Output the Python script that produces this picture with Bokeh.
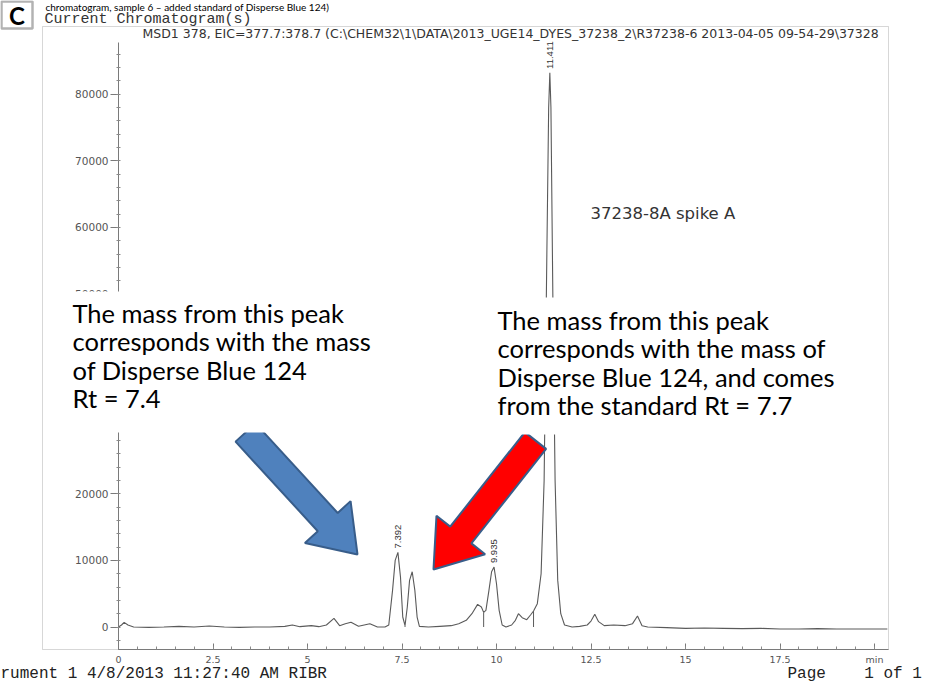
import math
from bokeh.plotting import figure
from bokeh.models import Range1d, FixedTicker, Label, BoxAnnotation
from bokeh.core.properties import value
from bokeh.embed import file_html
from bokeh.resources import INLINE

# ---------------- data ----------------
time_min = [0.0, 0.08, 0.15, 0.25, 0.4, 0.8, 1.2, 1.6, 2.0, 2.4,
            2.8, 3.2, 3.6, 4.0, 4.4, 4.6, 4.8, 5.1, 5.3, 5.5,
            5.7, 5.85, 6.0, 6.15, 6.35, 6.5, 6.65, 6.85, 7.05, 7.15,
            7.25, 7.32, 7.392, 7.46, 7.52, 7.58, 7.64, 7.70, 7.77, 7.84,
            7.90, 7.96, 8.2, 8.5, 8.8, 9.0, 9.2, 9.35, 9.5, 9.6,
            9.66, 9.72, 9.8, 9.87, 9.935, 10.0, 10.07, 10.15, 10.25, 10.4,
            10.5, 10.58, 10.68, 10.8, 10.9, 10.98, 11.08, 11.18, 11.26, 11.33,
            11.38, 11.411, 11.44, 11.49, 11.55, 11.62, 11.7, 11.8, 12.0, 12.2,
            12.4, 12.5, 12.6, 12.7, 12.85, 13.1, 13.4, 13.6, 13.73, 13.85,
            14.0, 14.5, 15.0, 15.5, 16.0, 16.5, 17.0, 17.5, 18.0, 18.5,
            19.0, 19.5, 20.0, 20.34]
signal = [0, 300, 700, 300, 0, -50, 0, 100, 0, 150,
          0, -50, 0, 0, 100, 300, 50, 200, 50, 300,
          1300, 200, 500, 700, 100, 300, 500, 0, 0, 300,
          5500, 10000, 11200, 7500, 1500, 200, 3000, 7000, 8300, 5500,
          1500, 100, 0, 100, 200, 500, 1000, 2000, 3400, 3000,
          2200, 2500, 5500, 8300, 9000, 6500, 2500, 300, 0, 300,
          1000, 2000, 1400, 1100, 1800, 2400, 3500, 8000, 22000, 55000,
          78000, 83200, 78000, 50000, 22000, 7000, 2000, 300, 0, 100,
          300, 900, 1900, 800, 200, 300, 200, 500, 1650, 200,
          0, -100, -200, -150, -200, -250, -200, -300, -300, -250,
          -300, -300, -300, -300]

# integration drop lines (ChemStation peak separators)
drop_rt = [7.58, 9.66, 10.98]
drop_height = [200, 2200, 2400]

peak_rt = [7.392, 9.935, 11.411]
peak_height = [11200, 9000, 83200]
peak_labels = ["7.392", "9.935", "11.411"]

y_ticks = [0, 10000, 20000, 30000, 40000, 50000, 60000, 70000, 80000]
x_ticks = [0, 2.5, 5, 7.5, 10, 12.5, 15, 17.5, 20]
x_tick_labels = ["0", "2.5", "5", "7.5", "10", "12.5", "15", "17.5", "min"]

# ---------------- layout helpers (picture pixel -> data) ----------------
X0_PX, PX_PER_MIN = 118.0, 37.8
Y0_PX, PX_PER_CNT = 626.5, 66.6 / 10000.0


def xd(px):
    return (px - X0_PX) / PX_PER_MIN


def yd(py):
    return (Y0_PX - py) / PX_PER_CNT


W, H = 925, 682
AX_R, AX_T, AX_B = 888, 42, 649   # chromatogram axes box, picture px

p = figure(width=W, height=H, output_backend="svg", toolbar_location=None,
           x_range=Range1d(xd(0), xd(W)), y_range=Range1d(yd(H), yd(0)),
           min_border=0, min_border_left=0, min_border_right=0,
           min_border_top=0, min_border_bottom=0)
p.outline_line_color = None
p.xgrid.visible = False
p.ygrid.visible = False
p.background_fill_color = "white"
p.border_fill_color = "white"

# axes (placed at the chromatogram's own origin)
yax = p.yaxis[0]
yax.fixed_location = 0
yax.bounds = (yd(AX_B), yd(AX_T))
yax.ticker = FixedTicker(ticks=y_ticks, minor_ticks=list(range(-2000, 88000, 2000)))
yax.axis_line_color = "#7a7a7a"
yax.major_tick_line_color = "#7a7a7a"
yax.minor_tick_line_color = "#8a8a8a"
yax.major_tick_out = 8
yax.major_tick_in = 0
yax.minor_tick_out = 2
yax.minor_tick_in = 2
yax.major_label_standoff = 2
yax.major_label_text_font = "DejaVu Sans"
yax.major_label_text_font_size = "10.5px"
yax.major_label_text_color = "#555555"

xax = p.xaxis[0]
xax.fixed_location = yd(AX_B)
xax.bounds = (0, xd(AX_R))
xax.ticker = FixedTicker(ticks=x_ticks, minor_ticks=[i * 0.5 for i in range(0, 41)])
xax.major_label_overrides = {t: s for t, s in zip(x_ticks, x_tick_labels)}
xax.axis_line_color = "#7a7a7a"
xax.major_tick_line_color = "#7a7a7a"
xax.minor_tick_line_color = "#8a8a8a"
xax.major_tick_out = 0
xax.major_tick_in = 6
xax.minor_tick_out = 0
xax.minor_tick_in = 3
xax.major_label_standoff = 4
xax.major_label_text_font = "DejaVu Sans"
xax.major_label_text_font_size = "9.5px"
xax.major_label_text_color = "#555555"

# chromatogram trace and integration marks
p.line(time_min, signal, line_color="#5a5a5a", line_width=1.1)
p.segment(x0=drop_rt, y0=[0] * len(drop_rt), x1=drop_rt, y1=drop_height,
          line_color="#5a5a5a", line_width=1)

# rotated peak retention-time labels
p.text(x=peak_rt, y=[h + 600 for h in peak_height], text=peak_labels, angle=math.pi / 2,
       text_align="left", text_baseline="middle", text_font=value("Liberation Sans"),
       text_font_size="9.5px", text_color="#333333")


# block arrows (PowerPoint style)
def block_arrow(tail, tip, w, hw, hl):
    tx, ty = tail
    hx, hy = tip
    dx, dy = hx - tx, hy - ty
    L = math.hypot(dx, dy)
    ux, uy = dx / L, dy / L
    nx, ny = -uy, ux
    bx, by = hx - ux * hl, hy - uy * hl
    pts = [(tx + nx * w / 2, ty + ny * w / 2), (bx + nx * w / 2, by + ny * w / 2),
           (bx + nx * hw / 2, by + ny * hw / 2), (hx, hy),
           (bx - nx * hw / 2, by - ny * hw / 2), (bx - nx * w / 2, by - ny * w / 2),
           (tx - nx * w / 2, ty - ny * w / 2)]
    return [xd(a) for a, b in pts], [yd(b) for a, b in pts]


bx_, by_ = block_arrow((245, 432), (357, 554), 27, 62, 44)
p.patch(bx_, by_, fill_color="#4F81BD", line_color="#385D8A", line_width=2)
rx_, ry_ = block_arrow((535, 440), (433, 569), 27, 62, 44)
p.patch(rx_, ry_, fill_color="#FF0000", line_color="#385D8A", line_width=2)

# outer report frame and header
p.add_layout(BoxAnnotation(left=xd(42), right=xd(AX_R), top=yd(26), bottom=yd(AX_B),
                           fill_alpha=0, line_color="#7a7a7a", line_width=1))
p.add_layout(Label(x=xd(142), y=yd(33), text="MSD1 378, EIC=377.7:378.7 (C:\\CHEM32\\1\\DATA\\2013_UGE14_DYES_37238_2\\R37238-6 2013-04-05 09-54-29\\37328",
                   text_font="DejaVu Sans", text_font_size="12.5px", text_color="#333333",
                   text_baseline="middle", text_align="left"))
p.add_layout(Label(x=xd(44), y=yd(18.5), text="Current Chromatogram(s)",
                   text_font="Liberation Mono", text_font_size="15px", text_color="#333333",
                   text_baseline="middle", text_align="left"))
# figure letter box and caption (cut at the top of the original page)
p.add_layout(BoxAnnotation(left=xd(1), right=xd(32), top=yd(1), bottom=yd(28),
                           fill_color="white", line_color="black", line_width=2.5))
p.add_layout(Label(x=xd(16.5), y=yd(14.5), text="C", text_font="Lato", text_font_style="bold",
                   text_font_size="24px", text_color="black", text_align="center",
                   text_baseline="middle"))
p.add_layout(Label(x=xd(45), y=yd(0), text="chromatogram, sample 6 \u2013 added standard of Disperse Blue 124)",
                   text_font="Lato", text_font_size="10px", text_color="black",
                   text_baseline="top", text_align="left"))

# sample name
p.add_layout(Label(x=xd(590), y=yd(213), text="37238-8A spike A",
                   text_font="DejaVu Sans", text_font_size="16.5px", text_color="#333333",
                   text_baseline="middle", text_align="left"))

# white text boxes with commentary
p.add_layout(BoxAnnotation(left=xd(70), right=xd(362), top=yd(291), bottom=yd(432),
                           fill_color="white", fill_alpha=1, line_color=None))
p.add_layout(BoxAnnotation(left=xd(490), right=xd(832), top=yd(297), bottom=yd(434),
                           fill_color="white", fill_alpha=1, line_color=None))
p.add_layout(Label(x=xd(72), y=yd(297), text="The mass from this peak\ncorresponds with the mass\nof Disperse Blue 124\nRt = 7.4",
                   text_font="Lato", text_font_size="25.5px", text_color="black",
                   text_line_height=0.95, text_baseline="top", text_align="left"))
p.add_layout(Label(x=xd(497), y=yd(304), text="The mass from this peak\ncorresponds with the mass of\nDisperse Blue 124, and comes\nfrom the standard Rt = 7.7",
                   text_font="Lato", text_font_size="25.5px", text_color="black",
                   text_line_height=0.95, text_baseline="top", text_align="left"))

# print footer
p.add_layout(Label(x=xd(0), y=yd(673), text="rument 1 4/8/2013 11:27:40 AM RIBR",
                   text_font="Liberation Mono", text_font_size="16px", text_color="#222222",
                   text_baseline="middle", text_align="left"))
p.add_layout(Label(x=xd(787), y=yd(673), text="Page\u00a0\u00a0\u00a0\u00a01 of 1",
                   text_font="Liberation Mono", text_font_size="16px", text_color="#222222",
                   text_baseline="middle", text_align="left"))

open("out.html", "w").write(file_html(p, INLINE))
